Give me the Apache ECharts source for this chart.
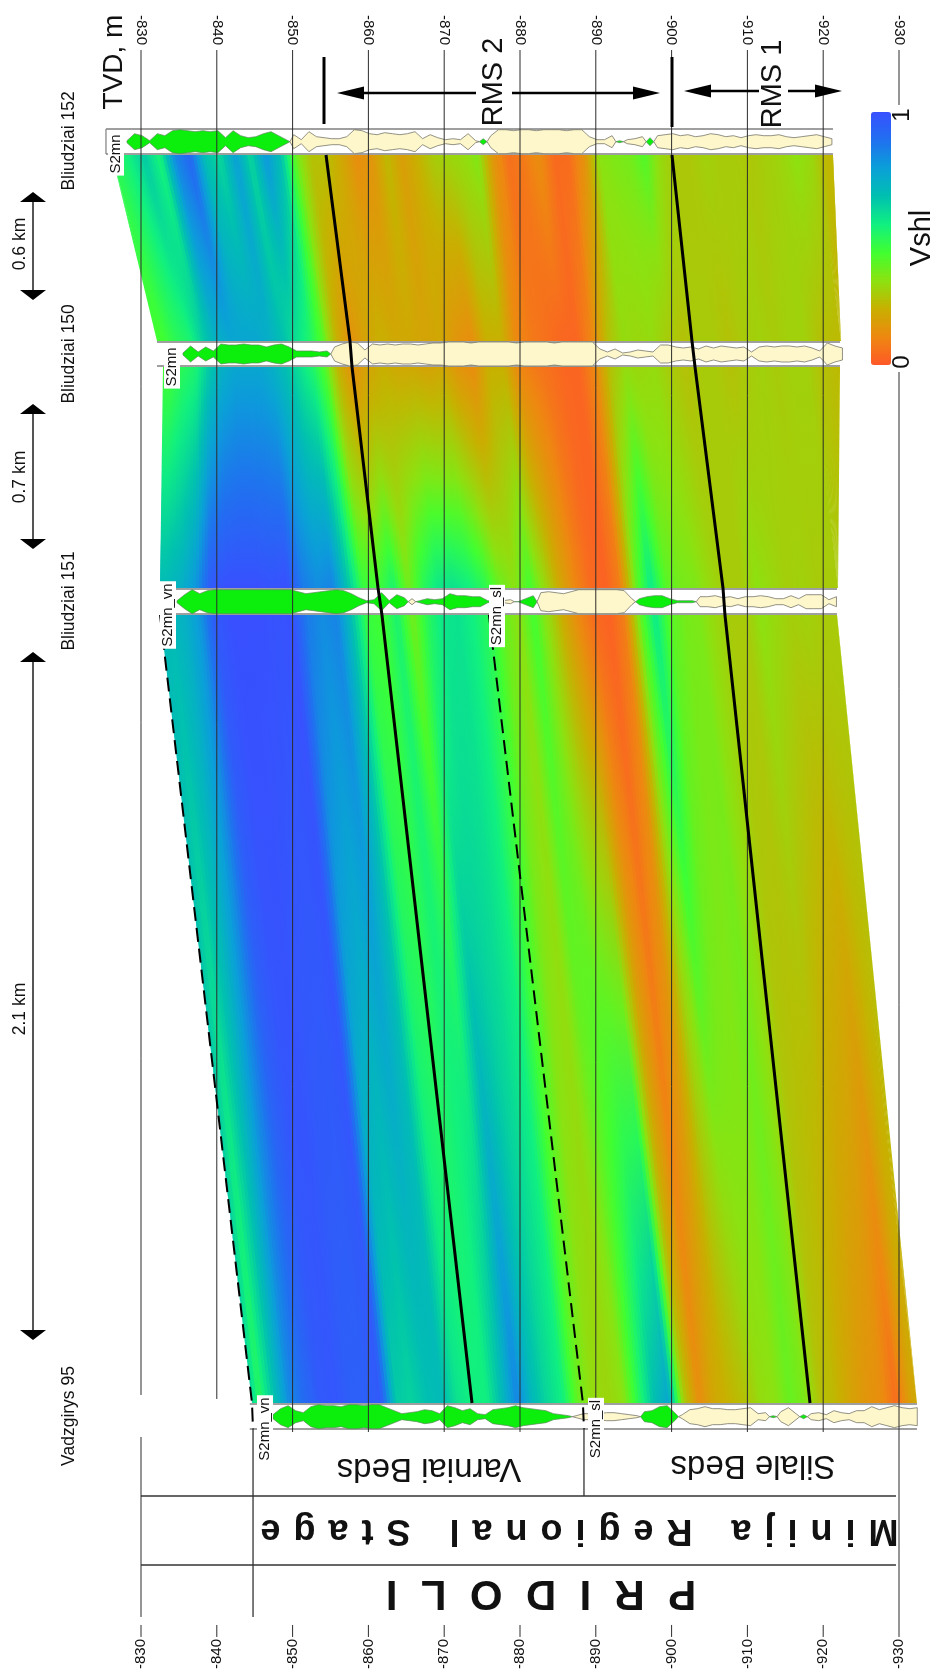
<!DOCTYPE html>
<html><head><meta charset="utf-8">
<style>html,body{margin:0;padding:0;background:#fff}#c{width:938px;height:1672px}</style>
<script src="https://cdn.jsdelivr.net/npm/echarts@6/dist/echarts.min.js"></script>
</head><body><div id="c"></div>
<script>
// ---- Vshl read at each well, one value every 2 m, starting 30 m above the RMS2 pick
const vshl152=[.55,.55,.6,.68,.58,.85,.93,.7,.65,.8,.65,.82,.7,.45,.3,.3,.22,.12,.15,.28,.18,.25,.33,.36,.38,.42,.15,.05,.07,.12,.04,.04,.13,.4,.42,.43,.48,.38,.32,.32,.35,.33,.33,.32,.34,.36,.4,.37,.27,.27];
const vshl150=[.5,.5,.55,.58,.68,.75,.78,.78,.78,.75,.7,.63,.57,.47,.25,.13,.2,.25,.22,.22,.2,.22,.15,.12,.25,.25,.1,.07,.05,.03,.03,.1,.3,.38,.37,.38,.33,.3,.33,.33,.3,.33,.35,.33,.35,.35,.3,.28,.28,.28];
const vshl151=[.72,.72,.75,.82,.97,1,1,1,.99,1,.88,.84,.86,.7,.52,.5,.58,.43,.55,.62,.63,.6,.55,.45,.4,.5,.38,.22,.1,.04,.02,.08,.45,.62,.47,.43,.42,.37,.33,.33,.4,.37,.34,.35,.33,.33,.33,.33,.33,.33];
const vshl95=[.75,.55,.7,.85,.92,.97,.98,.95,.95,.97,.68,.66,.7,.72,.63,.6,.6,.72,.86,.72,.65,.6,.45,.38,.36,.4,.55,.7,.78,.33,.12,.22,.26,.3,.38,.4,.45,.42,.3,.27,.2,.15,.12,.04,.2,.25,.25,.25,.25,.25];
// ---- well log half-widths, one per metre; + shale (green), - sand (cream)
const log152=[1,8,6,1,8,6,11,12,11,10,11,10,11,4,11,6,4,5,8,10,6,2,-7,-2,-10,-5,-4,-3,-3,-5,-12,-11,-8,-7,-9,-8,-7,-8,-10,-3,-7,-4,-2,-3,-2,-8,-1,3,-6,-12,-12,-11,-12,-12,-11,-12,-12,-12,-11,-12,-12,-5,-2,-2,-6,1,-2,-3,-5,4,-6,-7,-8,-6,-7,-5,-6,-8,-7,-5,-6,-4,-6,-7,-6,-6,-7,-5,-4,-5,-6,-7,-5,-3];
const log150=[1,8,2,7,3,10,9,9,10,9,9,7,9,10,7,3,3,3,2,3,-7,-10,-12,-11,-4,-10,-9,-10,-9,-10,-10,-9,-10,-11,-11,-12,-12,-12,-11,-12,-12,-12,-12,-12,-11,-12,-12,-12,-12,-11,-12,-12,-12,-12,-12,-5,-2,-5,-1,-2,-4,-3,-2,-9,-9,-7,-6,-7,-5,-8,-6,-8,-7,-6,-7,-2,-7,-8,-7,-8,-8,-7,-8,-6,-3,-11,-8,-6];
const log151=[1,7,12,8,11,12,12,12,12,12,12,12,12,12,12,12,10,8,9,10,11,12,11,8,4,1,2,9,1,7,4,-3,1,3,2,3,8,6,6,5,5,1,0,-1,-2,0,3,6,-9,-10,-9,-8,-10,-12,-12,-12,-12,-12,-12,-11,-3,3,5,6,6,3,1,1,1,-5,-5,-6,-4,-5,-3,-5,-5,-6,-5,-3,-3,-6,-3,-7,-7,-7,-2,-5];
const log95=[2,8,11,6,4,10,12,11,11,10,12,12,11,12,12,9,6,3,4,5,7,6,3,11,9,6,8,3,2,7,8,9,11,9,8,7,6,3,2,1,-1,-3,-3,-3,-4,-4,-3,-2,-1,5,6,10,11,4,-2,-7,-8,-10,-8,-8,-7,-7,-8,-9,-3,-4,1,-5,-9,-3,2,-3,-4,-2,-6,-4,-3,-6,-6,-10,-7,-9,-11,-9,-8,-9];
// ---- axis / horizons
const depthTicks=[-830,-840,-850,-860,-870,-880,-890,-900,-910,-920,-930];
const wellNames=['Bliudziai 152','Bliudziai 150','Bliudziai 151','Vadzgirys 95'];
const spacingLabels=['0.6 km','0.7 km','2.1 km'];
const rms2Pick=[[854.41,857.57],[857.84,861.27],[861.79,873.67]];
const rms1Pick=[[900.05,902.69],[903.09,906.78],[907.04,918.26]];
const topEdge=[[826.17,832.11],[832.90,832.51],[832.51,844.64]];
const baseEdge=[[921.29,922.35],[922.22,921.95],[921.82,932.37]];
const aboveScale=[[1,.878],[.86,1],[1,1]];   // thinning of the interval above RMS2
const gapY=[[155,341],[367,588],[615,1403]];
const gapWells=[[vshl152,vshl150],[vshl150,vshl151],[vshl151,vshl95]];
const rowY=[[129,154],[342,366],[589,614],[1404,1429]];
const rowX=[[825.38,921.29],[832.11,922.22],[832.51,921.82],[844.35,932.37]];
const logStart=[828.15,835.54,834.75,847.41];
const logMid=[141.7,354,601.7,1416.7];
const logs=[log152,log150,log151,log95];
const gridRuns=[[[50,1395],[1437,1617],[1625,1637]],[[50,1399],[1625,1637]],[[50,1432],[1625,1637]],[[50,1432],[1625,1637]],[[50,1432],[1625,1637]],[[50,1432],[1625,1637]],[[50,1400],[1625,1637]],[[50,1432],[1625,1637]],[[50,1432],[1625,1637]],[[50,1432],[1625,1637]],[[50,105],[372,1637]]];
const ramp=[[0,[255,88,40]],[.1,[238,136,16]],[.25,[200,176,0]],[.4,[140,226,16]],[.5,[64,255,48]],[.6,[16,240,128]],[.7,[0,192,176]],[.8,[10,160,216]],[.9,[32,112,240]],[1,[56,80,255]]];

function rgb(v){v=Math.max(0,Math.min(1,v));
 for(let i=1;i<ramp.length;i++){if(v<=ramp[i][0]){const a=ramp[i-1],b=ramp[i],t=(v-a[0])/(b[0]-a[0]);
  return 'rgb('+[0,1,2].map(k=>Math.round(a[1][k]+(b[1][k]-a[1][k])*t)).join(',')+')';}}
 return 'rgb(56,80,255)';}
const mix=(a,b,t)=>a+(b-a)*t;
const LG=echarts.graphic.LinearGradient;
const SUB=5;
function renderPanel(params,api){
 const g=params.dataIndex,[y0,y1]=gapY[g],[A,B]=gapWells[g],kids=[];
 const p=(d,y)=>api.coord([-d,y]);
 const pos=(u,w)=>{const d=rms2Pick[g][w]+(u<0?u*aboveScale[g][w]:u);return Math.min(baseEdge[g][w],Math.max(topEdge[g][w],d));};
 const pa=p(rms2Pick[g][0],y0)[1],pb=p(rms2Pick[g][1],y1)[1];
 for(let i=0;i<A.length-1;i++){for(let s=0;s<SUB;s++){
  const t0=s/SUB,t1=(s+1)/SUB,u0=-30+2*(i+t0),u1=-30+2*(i+t1)+.15; // each strip slightly overlaps the next
  const a0=p(pos(u0,0),y0),a1=p(pos(u1,0),y0);
  const b0=p(pos(u0,1),y1),b1=p(pos(u1,1),y1);
  const tm=(t0+t1)/2,va=mix(A[i],A[i+1],tm),vb=mix(B[i],B[i+1],tm),stops=[];
  for(let q=0;q<=6;q++)stops.push({offset:q/6,color:rgb(mix(va,vb,q/6))});
  kids.push({type:'polygon',shape:{points:[a0,a1,b1,b0]},style:{fill:new LG(0,pa,0,pb,stops,true)}});
 }}
 return {type:'group',children:kids};
}
function renderRows(params,api){
 const w=params.dataIndex,[y0,y1]=rowY[w],[d0,d1]=rowX[w];
 const a=api.coord([-d0,y0]),b=api.coord([-d1,y1]),kids=[];
 kids.push({type:'rect',shape:{x:a[0],y:a[1],width:b[0]-a[0],height:b[1]-a[1]},style:{fill:'#fff'}});
 [a[1],b[1]].forEach(y=>kids.push({type:'line',shape:{x1:a[0],y1:y,x2:b[0],y2:y},style:{stroke:'#7f7f7f',lineWidth:1.6}}));
 if(w===0)kids.push({type:'line',shape:{x1:a[0],y1:a[1],x2:a[0],y2:b[1]},style:{stroke:'#7f7f7f',lineWidth:1.2}});
 // log curve, mirrored about the row centre
 const L=logs[w],mid=api.coord([0,logMid[w]])[1];
 const at=k=>api.coord([-(logStart[w]+k),logMid[w]])[0];
 let run=[],sign=L[0]>=0?1:-1;
 const flush=()=>{ if(run.length<2)return;
  const pts=run.map(r=>[r[0],mid-r[1]]).concat(run.slice().reverse().map(r=>[r[0],mid+r[1]]));
  kids.push({type:'polygon',shape:{points:pts},style:sign>0?{fill:'#0cee0c',stroke:'#5c8a5c',lineWidth:.7}:{fill:'#fdf7cb',stroke:'#77766a',lineWidth:.8}});};
 L.forEach((v,k)=>{const sg=v>=0?1:-1;
  if(sg!==sign){const xm=(at(k-1)+at(k))/2;run.push([xm,0]);flush();run=[[xm,0]];sign=sg;}
  run.push([at(k),Math.abs(v)]);});
 flush();
 return {type:'group',children:kids};
}
function renderGrid(params,api){
 const i=params.dataIndex,d=depthTicks[i],kids=[];
 gridRuns[i].forEach(r=>{const a=api.coord([d,r[0]]),b=api.coord([d,r[1]]);
  kids.push({type:'line',shape:{x1:a[0],y1:a[1],x2:b[0],y2:b[1]},style:{stroke:'#2c2c2c',lineWidth:1}});});
 return {type:'group',children:kids};
}
function polyline(api,pts,style){
 return {type:'polyline',shape:{points:pts.map(q=>api.coord([-q[0],q[1]]))},style:Object.assign({fill:'none'},style)};
}
function renderHorizons(params,api){
 const s=rms=>[[rms[0][0],gapY[0][0]],[rms[0][1],gapY[0][1]],[rms[1][0],gapY[1][0]],[rms[1][1],gapY[1][1]],[rms[2][0],gapY[2][0]],[rms[2][1],gapY[2][1]]];
 return {type:'group',children:[
  polyline(api,s(rms2Pick),{stroke:'#000',lineWidth:3}),
  polyline(api,s(rms1Pick),{stroke:'#000',lineWidth:3}),
  polyline(api,[[832.51,615],[844.64,1403],[844.78,1429]],{stroke:'#000',lineWidth:2,lineDash:[14,7]}),
  polyline(api,[[875.9,615],[888.3,1403],[888.44,1429]],{stroke:'#000',lineWidth:2,lineDash:[14,7]}),
  polyline(api,[[844.78,1429],[844.78,1617]],{stroke:'#222',lineWidth:1.2}),
  polyline(api,[[888.44,1429],[888.44,1496]],{stroke:'#222',lineWidth:1.2}),
  polyline(api,[[830,1496],[929.6,1496]],{stroke:'#333',lineWidth:1.4}),
  polyline(api,[[830,1565],[929.6,1565]],{stroke:'#333',lineWidth:1.4})
 ]};
}
const custom=(fn,n,z)=>({type:'custom',renderItem:fn,data:Array.from({length:n},(_,i)=>[i]),z,silent:true,animation:false,clip:false,encode:{x:[],y:[]}});

// ---- annotations (text and arrows)
const FONT='"Liberation Sans",Arial,sans-serif';
const R=Math.PI/2;
function T(text,x,y,size,rot,extra){return {type:'text',x,y,rotation:rot,z:100,silent:true,style:Object.assign({text,fill:'#111',font:`${size}px ${FONT}`,align:'center',verticalAlign:'middle'},extra||{})};}
function L(x1,y1,x2,y2,w,c){return {type:'line',z:90,silent:true,shape:{x1,y1,x2,y2},style:{stroke:c||'#000',lineWidth:w}};}
function H(pts){return {type:'polygon',z:91,silent:true,shape:{points:pts},style:{fill:'#000'}};}
const els=[];
[[141],[354],[601],[1416]].forEach((p,i)=>els.push(T(wellNames[i],69,p[0],17.5,R)));
[[192,300,244],[404,549,477],[652,1340,1009]].forEach((a,i)=>{
 els.push(L(33,a[0]+4,33,a[1]-4,2,'#555'));
 els.push(H([[33,a[0]],[46,a[0]+10],[20,a[0]+10]]));
 els.push(H([[33,a[1]],[46,a[1]-10],[20,a[1]-10]]));
 els.push(T(spacingLabels[i],20,a[2],17.5,R));
});
els.push(T('TVD, m',114,62,28,R));
els.push(T('RMS 2',494,82,29,R));
els.push(T('RMS 1',773,84,29,R));
els.push(T('Vshl',922,238,29,R));
els.push(T('1',902,115,24,R));
els.push(T('0',902,362,24,R));
els.push(L(324,57,324,124,3),L(672,57,672,127,3));
els.push(L(360,93,476,93,2.5),H([[337,93],[364,86.5],[364,99.5]]));
els.push(L(512,93,635,93,2.5),H([[660,93],[633,86.5],[633,99.5]]));
els.push(L(708,91,759,91,2.5),H([[684,91],[711,84.5],[711,97.5]]));
els.push(L(788,91,817,91,2.5),H([[842,91],[815,84.5],[815,97.5]]));
const lab={backgroundColor:'#fff',padding:[1,2,0,2]};
els.push(T('S2mn',116,154,15,R,lab));
els.push(T('S2mn',172,367,15,R,lab));
els.push(T('S2mn_vn',168,615,15,R,lab));
els.push(T('S2mn_sl',497,616,15,R,lab));
els.push(T('S2mn_vn',265,1429,15,R,lab));
els.push(T('S2mn_sl',596,1429,15,R,lab));
els.push(T('Varniai Beds',429,1468,33,Math.PI));
els.push(T('Silale Beds',753,1465,33,Math.PI));
const g1=' \u200a',g3=g1+g1+g1;
els.push(T(['M','i','n','i','j','a'].join(g1)+g3+['R','e','g','i','o','n','a','l'].join(g1)+g3+['S','t','a','g','e'].join(g1),579.5,1530,36,Math.PI,{font:`bold 36px ${FONT}`}));
els.push(T('P  R  I  D  O  L  I',541,1593,42,Math.PI,{font:`bold 42px ${FONT}`}));

const axisBase={type:'value',min:-930,max:-830,interval:10,inverse:true,axisLine:{show:false},axisTick:{show:false},splitLine:{show:false},
 axisLabel:{rotate:90,fontFamily:'Liberation Sans',fontSize:15,color:'#111',showMinLabel:true,showMaxLabel:true}};
const chart=echarts.init(document.getElementById('c'),null,{renderer:'canvas',width:938,height:1672});
chart.setOption({
 animation:false,backgroundColor:'#fff',
 grid:{left:141,right:39,top:50,bottom:35},
 xAxis:[Object.assign({},axisBase,{position:'top',axisLabel:Object.assign({},axisBase.axisLabel,{margin:5})}),
        Object.assign({},axisBase,{position:'bottom',axisLabel:Object.assign({},axisBase.axisLabel,{margin:2})})],
 yAxis:{type:'value',min:50,max:1637,inverse:true,show:false},
 visualMap:{type:'continuous',min:0,max:1,seriesIndex:4,left:871,top:112,itemWidth:20,itemHeight:253,padding:0,
   calculable:false,realtime:false,hoverLink:false,showLabel:false,text:null,
   inRange:{color:ramp.map(s=>rgb(s[0]))}},
 graphic:{elements:els},
 series:[custom(renderPanel,3,1),custom(renderRows,4,2),custom(renderGrid,depthTicks.length,3),custom(renderHorizons,1,4),
   {type:'scatter',data:[],symbolSize:0}]
});
</script></body></html>
